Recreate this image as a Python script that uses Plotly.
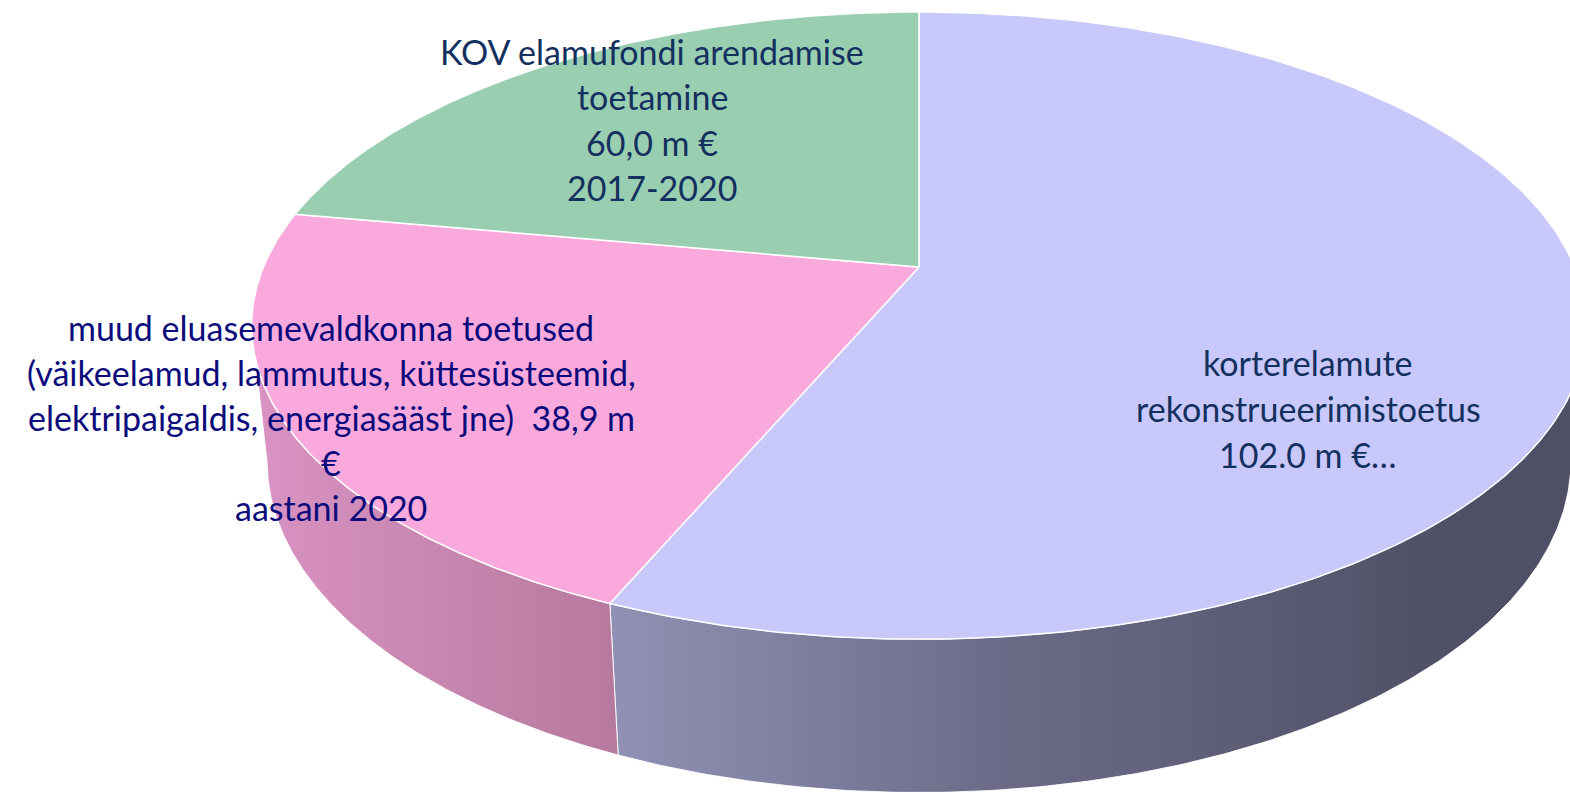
import numpy as np
import plotly.graph_objects as go

# ---------------- data ----------------
SLICE_NAMES = [
    "korterelamute rekonstrueerimistoetus",
    "muud eluasemevaldkonna toetused",
    "KOV elamufondi arendamise toetamine",
]
SLICE_VALUES = [102.0, 38.9, 40.0]

LABEL_LINES = [
    ["korterelamute", "rekonstrueerimistoetus", "102.0 m €…"],
    ["muud eluasemevaldkonna toetused",
     "(väikeelamud, lammutus, küttesüsteemid,",
     "elektripaigaldis, energiasääst jne)  38,9 m",
     "€",
     "aastani 2020"],
    ["KOV elamufondi arendamise", "toetamine", "60,0 m €", "2017-2020"],
]

# ---------------- styles / layout ----------------
TOP_COLORS = ["#C8C8FA", "#F9A9DC", "#9ACEB1"]
SIDE_SCALES = [
    [[0, "#9191B5"], [0.45, "#6C6C8A"], [1, "#4F4F65"]],
    [[0, "#DA93C3"], [1, "#B6799E"]],
    [[0, "#7FAE94"], [1, "#5E8A72"]],
]
LABEL_COLORS = ["#13305F", "#0B0B7C", "#13305F"]
LABEL_POS = [(1308, 362, 46), (331, 327, 45), (652, 51, 45.5)]  # x, first-line y, line step (px)
FONT = "Lato"
FONT_SIZE = 34

W, H = 1570, 792
CX, CY = 919, 267          # pie centre on page (px)
K = 3114.0                  # projection scale
ELEV = np.radians(27.5)     # viewing elevation
DIST = 4.75                 # camera distance (in radii)
THICK = 0.235               # disc thickness (in radii)
c, s = np.cos(ELEV), np.sin(ELEV)


def proj(theta_deg, z):
    t = np.radians(theta_deg)
    depth = DIST + c * np.cos(t) - z * s
    X = np.sin(t) / depth
    Y = (s * np.cos(t) + z * c) / depth
    return CX + K * X, CY - K * Y


total = sum(SLICE_VALUES)
bounds = np.concatenate([[0], np.cumsum(SLICE_VALUES) / total * 360.0])

# silhouette angles of the cylinder side
th_sil_r = np.degrees(np.arccos(-c / DIST))
th_sil_l = 360 - th_sil_r


def visible_side(a, b):
    lo = max(a, th_sil_r)
    hi = min(b, th_sil_l)
    if hi <= lo:
        return None
    return lo, hi


fig = go.Figure()

# sides first
for i in range(len(SLICE_VALUES)):
    rng = visible_side(bounds[i], bounds[i + 1])
    if rng is None:
        continue
    lo, hi = rng
    th = np.linspace(lo, hi, 200)
    xt, yt = proj(th, 0.0)
    xb, yb = proj(th[::-1], -THICK)
    xs = np.concatenate([xt, xb, xt[:1]])
    ys = np.concatenate([yt, yb, yt[:1]])
    fig.add_trace(go.Scatter(
        x=xs, y=ys, mode="lines", fill="toself",
        line=dict(color="rgba(255,255,255,0.9)", width=1),
        fillgradient=dict(type="horizontal", colorscale=SIDE_SCALES[i],
                          start=float(xs.min()), stop=float(min(xs.max(), 1450))),
        hoverinfo="skip", showlegend=False))

# top faces
for i in range(len(SLICE_VALUES)):
    th = np.linspace(bounds[i], bounds[i + 1], 300)
    xt, yt = proj(th, 0.0)
    xs = np.concatenate([[CX], xt, [CX]])
    ys = np.concatenate([[CY], yt, [CY]])
    fig.add_trace(go.Scatter(
        x=xs, y=ys, mode="lines", fill="toself", fillcolor=TOP_COLORS[i],
        line=dict(color="white", width=1.5),
        name=SLICE_NAMES[i], hoverinfo="name", showlegend=False))

# labels
for lines, (lx, ly, step), col in zip(LABEL_LINES, LABEL_POS, LABEL_COLORS):
    for k, txt in enumerate(lines):
        fig.add_annotation(x=lx, y=ly + k * step, text=txt, showarrow=False,
                           xanchor="center", yanchor="middle",
                           font=dict(family=FONT, size=FONT_SIZE, color=col))

fig.update_layout(
    width=W, height=H, margin=dict(l=0, r=0, t=0, b=0),
    paper_bgcolor="white", plot_bgcolor="white",
    xaxis=dict(range=[0, W], visible=False, fixedrange=True),
    yaxis=dict(range=[H, 0], visible=False, fixedrange=True),
)

fig.write_html("out.html", config={"displayModeBar": False},
               post_script="document.body.style.margin='0px';document.body.style.overflow='hidden';")
